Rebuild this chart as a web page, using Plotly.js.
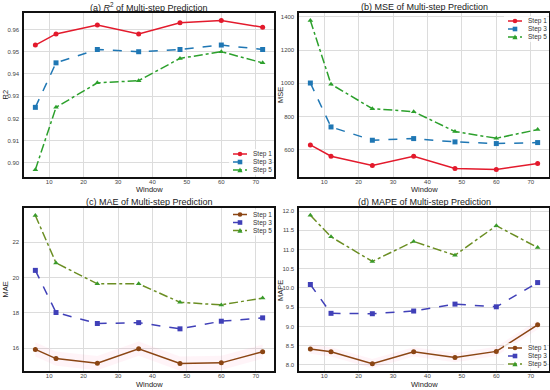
<!DOCTYPE html>
<html>
<head>
<meta charset="utf-8">
<script src="https://cdn.plot.ly/plotly-3.0.1.min.js"></script>
<style>html,body{margin:0;padding:0;background:#fff}#chart{width:550px;height:390px}</style>
</head>
<body>
<div id="chart"></div>
<script>
const windows = [6, 12, 24, 36, 48, 60, 72];

const r2Step1 = [0.953, 0.958, 0.962, 0.958, 0.963, 0.964, 0.961];
const r2Step3 = [0.925, 0.945, 0.951, 0.950, 0.951, 0.953, 0.951];
const r2Step5 = [0.897, 0.925, 0.936, 0.937, 0.947, 0.950, 0.945];

const mseStep1 = [630, 562, 506, 562, 488, 482, 518];
const mseStep3 = [1002, 738, 658, 668, 648, 638, 644];
const mseStep5 = [1378, 995, 848, 830, 710, 670, 722];

const maeStep1 = [15.94, 15.42, 15.16, 15.98, 15.14, 15.18, 15.81];
const maeStep3 = [20.40, 18.02, 17.40, 17.45, 17.10, 17.53, 17.72];
const maeStep5 = [23.50, 20.82, 19.64, 19.64, 18.60, 18.45, 18.84];

const mapeStep1 = [8.41, 8.34, 8.03, 8.34, 8.19, 8.35, 9.04];
const mapeStep3 = [10.09, 9.34, 9.33, 9.40, 9.58, 9.51, 10.14];
const mapeStep5 = [11.89, 11.33, 10.69, 11.21, 10.85, 11.62, 11.05];

const stepNames = ['Step 1', 'Step 3', 'Step 5'];
const titles = ['(a) <i>R</i><sup>2</sup> of Multi-step Prediction', '(b) MSE of Multi-step Prediction',
                '(c) MAE of Multi-step Prediction', '(d) MAPE of Multi-step Prediction'];
const yTitles = ['R2', 'MSE', 'MAE', 'MAPE'];

const colorsAB = ['#e31a2c', '#1f77b4', '#2ca02c'];
const colorsCD = ['#8b4513', '#4040b8', '#6b8e23'];
const markerColorsCD = ['#8b4513', '#4040b8', '#3a9a2a'];
const symbols = ['circle', 'square', 'triangle-up'];
const dashes = ['solid', 'dash', 'dashdot'];

const FONT = 'Liberation Sans, Arial, sans-serif';
const W = 550, H = 390;
const PX = v => v / W, PY = v => 1 - v / H;
const traces = [];

function band(y, w, xa, ya) {
  const lo = y.map(v => v - w), hi = y.map(v => v + w);
  traces.push({x: windows, y: lo, xaxis: xa, yaxis: ya, mode: 'lines', line: {width: 0}, showlegend: false, hoverinfo: 'skip'});
  traces.push({x: windows, y: hi, xaxis: xa, yaxis: ya, mode: 'lines', line: {width: 0}, fill: 'tonexty',
               fillcolor: 'rgba(255,120,170,0.08)', showlegend: false, hoverinfo: 'skip'});
}
band(maeStep1, 0.4, 'x3', 'y3');
band(mapeStep1, 0.12, 'x4', 'y4');

const sets = [
  [r2Step1, r2Step3, r2Step5],
  [mseStep1, mseStep3, mseStep5],
  [maeStep1, maeStep3, maeStep5],
  [mapeStep1, mapeStep3, mapeStep5]
];
sets.forEach((s, p) => {
  s.forEach((ys, i) => {
    const lc = p < 2 ? colorsAB[i] : colorsCD[i];
    const mc = p < 2 ? colorsAB[i] : markerColorsCD[i];
    traces.push({
      x: windows, y: ys, name: stepNames[i],
      xaxis: 'x' + (p + 1), yaxis: 'y' + (p + 1),
      showlegend: false,
      mode: 'lines+markers',
      line: {color: lc, width: 1.5, dash: dashes[i]},
      marker: {color: mc, symbol: symbols[i], size: 5}
    });
  });
});

const xDoms = [[PX(24), PX(274)], [PX(299), PX(549)]];
const yDoms = [[PY(177), PY(13)], [PY(371), PY(208)]];

function xax(i) {
  return {
    domain: xDoms[i % 2], anchor: 'y' + (i + 1), range: [2.7, 75.3],
    tickvals: [10, 20, 30, 40, 50, 60, 70], ticks: '', ticklabelstandoff: -2,
    tickfont: {family: FONT, size: 6, color: '#444'},
    showgrid: true, gridcolor: '#dcdcdc', gridwidth: 1, zeroline: false,
    showline: true, mirror: true, linecolor: '#111', linewidth: 1.6
  };
}
function yax(i, range, tv, fmt) {
  return {
    domain: yDoms[Math.floor(i / 2)], anchor: 'x' + (i + 1), range: range,
    tickvals: tv, tickformat: fmt, ticks: '', ticklabelstandoff: 2,
    tickfont: {family: FONT, size: 6, color: '#444'},
    showgrid: true, gridcolor: '#dcdcdc', gridwidth: 1, zeroline: false,
    showline: true, mirror: true, linecolor: '#111', linewidth: 1.6
  };
}

const annotations = [];
const shapes = [];
const titleX = [PX((24 + 274) / 2), PX((299 + 549) / 2)];
const titleY = [PY(6.5), PY(201.5)];
const winY = [PY(189.5), PY(384.5)];
const yTitleX = [PX(4.5), PX(280)];
const yMid = [PY(95), PY(290)];
for (let i = 0; i < 4; i++) {
  const c = i % 2, r = Math.floor(i / 2);
  annotations.push({text: titles[i], xref: 'paper', yref: 'paper', x: titleX[c], y: titleY[r],
    xanchor: 'center', yanchor: 'middle', showarrow: false, font: {family: FONT, size: 9, color: '#222'}});
  annotations.push({text: 'Window', xref: 'paper', yref: 'paper', x: titleX[c], y: winY[r],
    xanchor: 'center', yanchor: 'middle', showarrow: false, font: {family: FONT, size: 7.5, color: '#222'}});
  annotations.push({text: yTitles[i], xref: 'paper', yref: 'paper', x: yTitleX[c], y: yMid[r],
    xanchor: 'center', yanchor: 'middle', textangle: -90, showarrow: false, font: {family: FONT, size: 7.5, color: '#222'}});
}

// custom compact legends (matplotlib-style), positions in pixels
const legendPos = [
  {x: 233, y: 154}, {x: 508, y: 21}, {x: 233, y: 214.5}, {x: 508, y: 348}
];
legendPos.forEach((lp, p) => {
  shapes.push({type: 'rect', xref: 'paper', yref: 'paper', x0: PX(lp.x - 4), x1: PX(lp.x + 39),
    y0: PY(lp.y - 5), y1: PY(lp.y + 21), fillcolor: 'rgba(255,255,255,0.8)', line: {width: 0}, layer: 'above'});
  for (let i = 0; i < 3; i++) {
    const yy = lp.y + i * 8;
    const lc = p < 2 ? colorsAB[i] : colorsCD[i];
    const mc = p < 2 ? colorsAB[i] : markerColorsCD[i];
    shapes.push({type: 'line', xref: 'paper', yref: 'paper', x0: PX(lp.x), x1: PX(lp.x + 14),
      y0: PY(yy), y1: PY(yy), line: {color: lc, width: 1.5, dash: dashes[i]}, layer: 'above'});
    const cx = lp.x + 7, r = 2.3;
    if (i === 0) {
      shapes.push({type: 'circle', xref: 'paper', yref: 'paper', x0: PX(cx - r), x1: PX(cx + r),
        y0: PY(yy - r), y1: PY(yy + r), fillcolor: mc, line: {width: 0}, layer: 'above'});
    } else if (i === 1) {
      shapes.push({type: 'rect', xref: 'paper', yref: 'paper', x0: PX(cx - r), x1: PX(cx + r),
        y0: PY(yy - r), y1: PY(yy + r), fillcolor: mc, line: {width: 0}, layer: 'above'});
    } else {
      const path = 'M' + PX(cx - r - 0.3) + ',' + PY(yy + r) + ' L' + PX(cx + r + 0.3) + ',' + PY(yy + r) +
                   ' L' + PX(cx) + ',' + PY(yy - r - 0.3) + ' Z';
      shapes.push({type: 'path', xref: 'paper', yref: 'paper', path: path, fillcolor: mc, line: {width: 0}, layer: 'above'});
    }
    annotations.push({text: stepNames[i], xref: 'paper', yref: 'paper', x: PX(lp.x + 18), y: PY(yy),
      xanchor: 'left', yanchor: 'middle', showarrow: false, font: {family: FONT, size: 6.5, color: '#333'}});
  }
});

const layout = {
  width: W, height: H, margin: {l: 0, r: 0, t: 0, b: 0},
  paper_bgcolor: '#fff', plot_bgcolor: '#fff',
  font: {family: FONT},
  xaxis: xax(0), xaxis2: xax(1), xaxis3: xax(2), xaxis4: xax(3),
  yaxis: yax(0, [0.8937, 0.9674], [0.90, 0.91, 0.92, 0.93, 0.94, 0.95, 0.96], '.2f'),
  yaxis2: yax(1, [437, 1423], [600, 800, 1000, 1200, 1400], 'd'),
  yaxis3: yax(2, [14.72, 23.92], [16, 18, 20, 22], 'd'),
  yaxis4: yax(3, [7.84, 12.08], [8.0, 8.5, 9.0, 9.5, 10.0, 10.5, 11.0, 11.5, 12.0], '.1f'),
  annotations: annotations,
  shapes: shapes,
  showlegend: false
};

Plotly.newPlot('chart', traces, layout, {displayModeBar: false, staticPlot: true});
</script>
</body>
</html>
